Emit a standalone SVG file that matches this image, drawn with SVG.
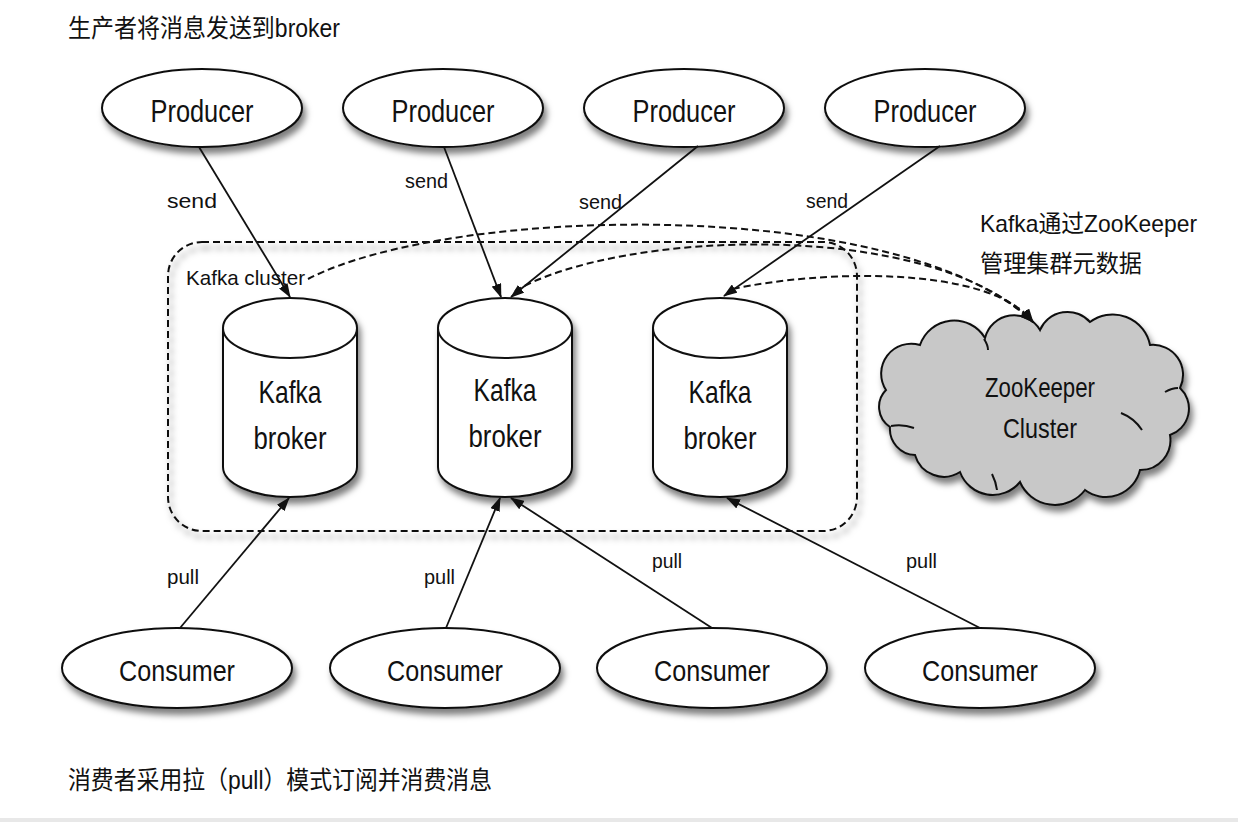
<svg xmlns="http://www.w3.org/2000/svg" width="1238" height="822" viewBox="0 0 1238 822">
<style>
text{font-family:"Liberation Sans","Noto Sans CJK SC",sans-serif;fill:#111;}
.node{fill:#fff;stroke:#111;stroke-width:2;}
.lbl{font-size:21px;}
.big{font-size:32px;text-anchor:middle;}
.cjk{font-size:25px;}
.conn{fill:none;stroke:#111;stroke-width:1.8;}
.dash{fill:none;stroke:#111;stroke-width:2;stroke-dasharray:7 4;}
</style>
<defs>
<filter id="sh" x="-20%" y="-20%" width="150%" height="160%">
<feDropShadow dx="3" dy="6" stdDeviation="3" flood-color="#000" flood-opacity="0.5"/>
</filter>
<marker id="ah" viewBox="0 0 14 10" refX="13" refY="5" markerWidth="14" markerHeight="10" markerUnits="userSpaceOnUse" orient="auto">
<path d="M0,0 L14,5 L0,10 Z" fill="#111"/>
</marker>
</defs>
<rect x="0" y="0" width="1238" height="822" fill="#fff"/>
<rect x="0" y="818" width="1238" height="4" fill="#e8e8e8"/>

<g id="titles">
<text class="cjk" x="68" y="37" textLength="272" lengthAdjust="spacingAndGlyphs">生产者将消息发送到broker</text>
<text class="cjk" x="68" y="789" textLength="424" lengthAdjust="spacingAndGlyphs">消费者采用拉（pull）模式订阅并消费消息</text>
<text class="cjk" style="font-size:24px" x="980" y="232" textLength="217" lengthAdjust="spacingAndGlyphs">Kafka通过ZooKeeper</text>
<text class="cjk" style="font-size:24px" x="980" y="272" textLength="162" lengthAdjust="spacingAndGlyphs">管理集群元数据</text>
</g>

<g id="kafka-cluster">
<rect x="168" y="242" width="689" height="289" rx="34" ry="34" class="dash" filter="url(#sh)"/>
<text class="lbl" x="186" y="285" textLength="119" lengthAdjust="spacingAndGlyphs">Kafka cluster</text>
</g>

<g id="producer-1">
<ellipse cx="202" cy="108" rx="100" ry="39" class="node" filter="url(#sh)"/>
<text class="big" x="202" y="122" textLength="103" lengthAdjust="spacingAndGlyphs">Producer</text>
</g>
<g id="producer-2">
<ellipse cx="443" cy="108" rx="100" ry="39" class="node" filter="url(#sh)"/>
<text class="big" x="443" y="122" textLength="103" lengthAdjust="spacingAndGlyphs">Producer</text>
</g>
<g id="producer-3">
<ellipse cx="684" cy="108" rx="100" ry="39" class="node" filter="url(#sh)"/>
<text class="big" x="684" y="122" textLength="103" lengthAdjust="spacingAndGlyphs">Producer</text>
</g>
<g id="producer-4">
<ellipse cx="925" cy="108" rx="100" ry="39" class="node" filter="url(#sh)"/>
<text class="big" x="925" y="122" textLength="103" lengthAdjust="spacingAndGlyphs">Producer</text>
</g>

<g id="broker-1">
<path d="M223,328 A67,30 0 0 1 357,328 V467 A67,30 0 0 1 223,467 Z" class="node" filter="url(#sh)"/>
<path d="M223,328 A67,30 0 0 0 357,328" class="node" fill="none"/>
<text class="big" x="290" y="403" textLength="63" lengthAdjust="spacingAndGlyphs">Kafka</text>
<text class="big" x="290" y="449" textLength="73" lengthAdjust="spacingAndGlyphs">broker</text>
</g>
<g id="broker-2">
<path d="M438,328 A67,30 0 0 1 572,328 V467 A67,30 0 0 1 438,467 Z" class="node" filter="url(#sh)"/>
<path d="M438,328 A67,30 0 0 0 572,328" class="node" fill="none"/>
<text class="big" x="505" y="401" textLength="63" lengthAdjust="spacingAndGlyphs">Kafka</text>
<text class="big" x="505" y="447" textLength="73" lengthAdjust="spacingAndGlyphs">broker</text>
</g>
<g id="broker-3">
<path d="M653,328 A67,30 0 0 1 787,328 V467 A67,30 0 0 1 653,467 Z" class="node" filter="url(#sh)"/>
<path d="M653,328 A67,30 0 0 0 787,328" class="node" fill="none"/>
<text class="big" x="720" y="403" textLength="63" lengthAdjust="spacingAndGlyphs">Kafka</text>
<text class="big" x="720" y="449" textLength="73" lengthAdjust="spacingAndGlyphs">broker</text>
</g>

<g id="zookeeper-cluster">
<path d="M886,390 A30,30 0 0 1 920,345 A36,36 0 0 1 985,338 A30,30 0 0 1 1040,330 A30,30 0 0 1 1090,322 A38,38 0 0 1 1150,345 A30,30 0 0 1 1180,388 A28,28 0 0 1 1170,435 A30,30 0 0 1 1140,470 A35,35 0 0 1 1085,490 A38,38 0 0 1 1020,482 A35,35 0 0 1 960,472 A30,30 0 0 1 915,455 A26,26 0 0 1 890,427 A24,24 0 0 1 886,390 Z" fill="#c8c8c8" stroke="#111" stroke-width="2" filter="url(#sh)"/>
<path d="M891,426 Q903,424 914,428 M1121,413 Q1134,418 1142,430 M992,474 Q996,482 997,490 M1165,392 Q1172,388 1178,388 M984,339 Q988,345 988,350" fill="none" stroke="#111" stroke-width="2"/>
<text class="big" style="font-size:28px" x="1040" y="397" textLength="110" lengthAdjust="spacingAndGlyphs">ZooKeeper</text>
<text class="big" style="font-size:28px" x="1040" y="438" textLength="74" lengthAdjust="spacingAndGlyphs">Cluster</text>
</g>

<g id="consumer-1">
<ellipse cx="177" cy="668" rx="115" ry="40" class="node" filter="url(#sh)"/>
<text class="big" style="font-size:30px" x="177" y="681" textLength="116" lengthAdjust="spacingAndGlyphs">Consumer</text>
</g>
<g id="consumer-2">
<ellipse cx="445" cy="668" rx="115" ry="40" class="node" filter="url(#sh)"/>
<text class="big" style="font-size:30px" x="445" y="681" textLength="116" lengthAdjust="spacingAndGlyphs">Consumer</text>
</g>
<g id="consumer-3">
<ellipse cx="712" cy="668" rx="115" ry="40" class="node" filter="url(#sh)"/>
<text class="big" style="font-size:30px" x="712" y="681" textLength="116" lengthAdjust="spacingAndGlyphs">Consumer</text>
</g>
<g id="consumer-4">
<ellipse cx="980" cy="668" rx="115" ry="40" class="node" filter="url(#sh)"/>
<text class="big" style="font-size:30px" x="980" y="681" textLength="116" lengthAdjust="spacingAndGlyphs">Consumer</text>
</g>

<g id="connectors">
<line x1="199" y1="147" x2="290" y2="297" class="conn" marker-end="url(#ah)"/>
<line x1="444" y1="147" x2="501" y2="297" class="conn" marker-end="url(#ah)"/>
<line x1="698" y1="146" x2="511" y2="297" class="conn" marker-end="url(#ah)"/>
<line x1="940" y1="146" x2="724" y2="296" class="conn" marker-end="url(#ah)"/>
<line x1="180" y1="628" x2="289" y2="498" class="conn" marker-end="url(#ah)"/>
<line x1="446" y1="628" x2="500" y2="498" class="conn" marker-end="url(#ah)"/>
<line x1="712" y1="628" x2="511" y2="498" class="conn" marker-end="url(#ah)"/>
<line x1="980" y1="628" x2="727" y2="498" class="conn" marker-end="url(#ah)"/>
<path d="M308,279 C450,205 900,195 1033,322" class="dash" marker-end="url(#ah)"/>
<path d="M515,291 C620,230 930,218 1033,322" class="dash" marker-end="url(#ah)"/>
<path d="M733,289 C820,270 990,265 1033,322" class="dash" marker-end="url(#ah)"/>
<text class="lbl" x="167" y="208" textLength="50" lengthAdjust="spacingAndGlyphs">send</text>
<text class="lbl" x="405" y="188" textLength="43" lengthAdjust="spacingAndGlyphs">send</text>
<text class="lbl" x="579" y="209" textLength="43" lengthAdjust="spacingAndGlyphs">send</text>
<text class="lbl" x="806" y="208" textLength="42" lengthAdjust="spacingAndGlyphs">send</text>
<text class="lbl" x="167" y="584" textLength="32" lengthAdjust="spacingAndGlyphs">pull</text>
<text class="lbl" x="424" y="584" textLength="31" lengthAdjust="spacingAndGlyphs">pull</text>
<text class="lbl" x="652" y="568" textLength="30" lengthAdjust="spacingAndGlyphs">pull</text>
<text class="lbl" x="906" y="568" textLength="31" lengthAdjust="spacingAndGlyphs">pull</text>
</g>
</svg>
